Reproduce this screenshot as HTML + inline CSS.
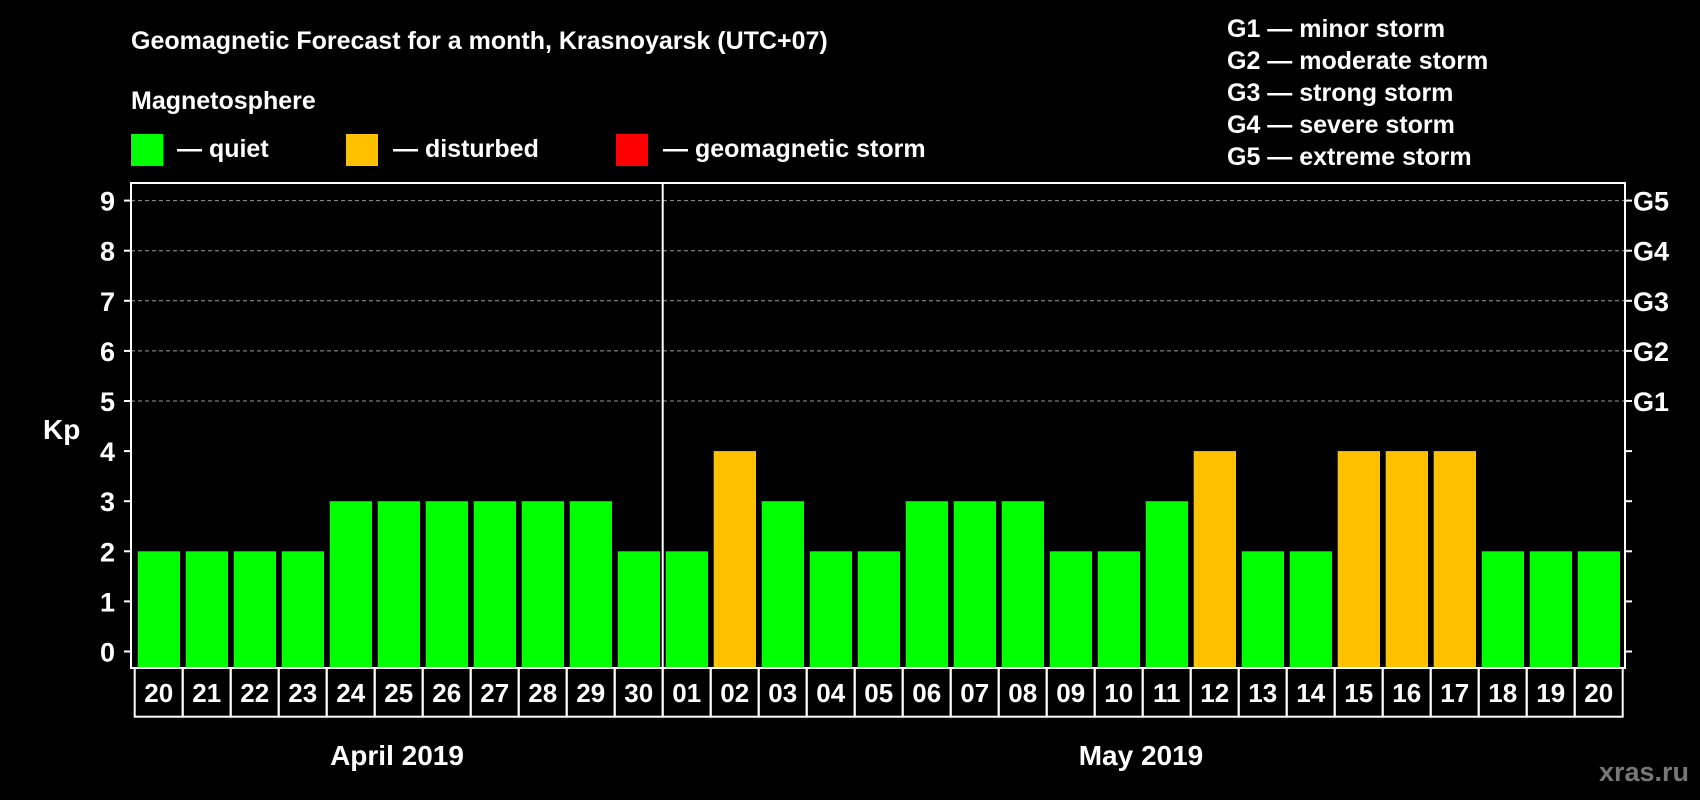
<!DOCTYPE html>
<html><head><meta charset="utf-8"><style>
body{margin:0;background:#000;width:1700px;height:800px;overflow:hidden}
svg{display:block;font-family:"Liberation Sans",Arial,sans-serif;font-weight:bold}
</style></head><body>
<svg id="chart" width="1700" height="800" viewBox="0 0 1700 800">
<text x="131" y="49" fill="#fff" font-size="25">Geomagnetic Forecast for a month, Krasnoyarsk (UTC+07)</text>
<text x="131" y="109" fill="#fff" font-size="25">Magnetosphere</text>
<g><rect x="131" y="134" width="32" height="32" fill="#00ff00"/><text x="177" y="157" fill="#fff" font-size="25">— quiet</text></g>
<g><rect x="346" y="134" width="32" height="32" fill="#ffc000"/><text x="393" y="157" fill="#fff" font-size="25">— disturbed</text></g>
<g><rect x="616" y="134" width="32" height="32" fill="#ff0000"/><text x="663" y="157" fill="#fff" font-size="25">— geomagnetic storm</text></g>
<g fill="#fff" font-size="25">
<text x="1227" y="37">G1 — minor storm</text>
<text x="1227" y="69">G2 — moderate storm</text>
<text x="1227" y="101">G3 — strong storm</text>
<text x="1227" y="133">G4 — severe storm</text>
<text x="1227" y="165">G5 — extreme storm</text>
</g>
<text x="43" y="439" fill="#fff" font-size="28">Kp</text>
<text x="397" y="765" fill="#fff" font-size="28" text-anchor="middle">April 2019</text>
<text x="1141" y="765" fill="#fff" font-size="28" text-anchor="middle">May 2019</text>
<text x="1689" y="781" fill="#777" font-size="27" text-anchor="end">xras.ru</text>
<g id="grid"></g><g id="bars"></g><g id="axes"></g>
</svg>
<script>
const days=["20","21","22","23","24","25","26","27","28","29","30","01","02","03","04","05","06","07","08","09","10","11","12","13","14","15","16","17","18","19","20"];
const kp=[2,2,2,2,3,3,3,3,3,3,2,2,4,3,2,2,3,3,3,2,2,3,4,2,2,4,4,4,2,2,2];
const yTicks=["0","1","2","3","4","5","6","7","8","9"];
const gLabels=["G1","G2","G3","G4","G5"];
const NS="http://www.w3.org/2000/svg";
const L=131,R=1625,T=183,B=668,Y0=651.5,UNIT=50.1,X0=134.7,PITCH=48;
const y=v=>Y0-v*UNIT;
const bx=i=>X0+i*PITCH;
function mk(tag,attrs,parent){const e=document.createElementNS(NS,tag);for(const k in attrs)e.setAttribute(k,attrs[k]);parent.appendChild(e);return e;}
const grid=document.getElementById('grid'),bars=document.getElementById('bars'),axes=document.getElementById('axes');
yTicks.forEach((t,i)=>{
  const v=+t;
  if(v>=5){const g=mk('line',{x1:L,x2:R,y1:y(v),y2:y(v),stroke:'#999','stroke-width':1,'stroke-dasharray':'4,3'},grid);
    
    }
  const tl=mk('line',{x1:L-7,x2:L,y1:y(v),y2:y(v),stroke:'#fff','stroke-width':2},axes);
  
  
  const tr=mk('line',{x1:R,x2:R+7,y1:y(v),y2:y(v),stroke:'#fff','stroke-width':2},axes);
  
  
  const lb=mk('text',{x:115,y:y(v)+10,fill:'#fff','font-size':27,'text-anchor':'end'},axes);lb.textContent=t;
  
  
});
gLabels.forEach((g,i)=>{
  const t=mk('text',{x:1633,y:y(5+i)+10,fill:'#fff','font-size':27},axes);t.textContent=g;
  
  
});
kp.forEach((v,i)=>{
  const col=v>=5?'#ff0000':(v>=4?'#ffc000':'#00ff00');
  const r=mk('rect',{x:bx(i)+3,y:y(v),width:42.3,height:B-y(v),fill:col},bars);
  
  
  const c=mk('rect',{x:bx(i),y:B,width:PITCH,height:48.7,fill:'none',stroke:'#fff','stroke-width':2},axes);
  
  
  const t=mk('text',{x:bx(i)+PITCH/2,y:B+34,fill:'#fff','font-size':26,'text-anchor':'middle'},axes);t.textContent=days[i];
  
  
});
const frame=mk('rect',{x:L,y:T,width:R-L,height:B-T,fill:'none',stroke:'#fff','stroke-width':2},axes);


const dv=mk('line',{x1:bx(11),x2:bx(11),y1:T,y2:B,stroke:'#fff','stroke-width':2},axes);


</script>
</body></html>
